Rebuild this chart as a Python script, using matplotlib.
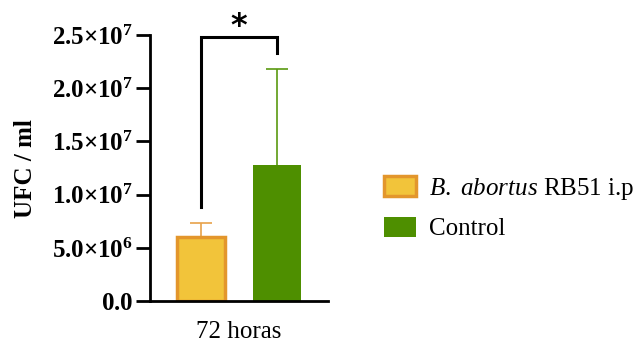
import matplotlib
matplotlib.use("Agg")
import matplotlib.pyplot as plt
from matplotlib.ticker import FixedLocator, FixedFormatter
from matplotlib.patches import Patch

plt.rcParams['font.family'] = ['Liberation Serif', 'DejaVu Serif']
plt.rcParams['mathtext.fontset'] = 'custom'
plt.rcParams['mathtext.rm'] = 'Liberation Serif'
plt.rcParams['mathtext.bf'] = 'Liberation Serif:bold'
plt.rcParams['mathtext.it'] = 'Liberation Serif:italic'

groups = [r"$\mathit{B.}$ $\mathit{abortus}$ RB51 i.p", "Control"]
means = [6.0e6, 12.8e6]
errors_up = [1.35e6, 9.0e6]
category = "72 horas"
yticks = [0, 5e6, 1e7, 1.5e7, 2e7, 2.5e7]
yticklabels = [r"$\mathbf{0.0}$", r"$\mathbf{5.0{\times}10^{6}}$", r"$\mathbf{1.0{\times}10^{7}}$",
               r"$\mathbf{1.5{\times}10^{7}}$", r"$\mathbf{2.0{\times}10^{7}}$", r"$\mathbf{2.5{\times}10^{7}}$"]

fills = ["#F2C43A", "#4E8F00"]
edges = ["#E3962C", "#4E8F00"]
errcols = ["#E8A24A", "#5A9A10"]

fig = plt.figure(figsize=(6.33, 3.58), dpi=100)
ax = fig.add_axes([0.237, 0.159, 0.281, 0.743])

xs = [0, 1]
width = 0.64
handles = []
for i in range(2):
    lw = 2.5 if i == 0 else 0
    ax.bar(xs[i], means[i], width=width, color=fills[i], edgecolor=edges[i],
           linewidth=lw, zorder=2)
    eb = ax.errorbar(xs[i], means[i], yerr=[[0], [errors_up[i]]], fmt='none',
                     ecolor=errcols[i], elinewidth=1.2, capsize=8, capthick=1.2, zorder=1)
    caps = eb.lines[1]
    if len(caps) > 1:
        caps[0].set_visible(False)
    handles.append(Patch(facecolor=fills[i], edgecolor=edges[i], linewidth=lw))

ax.set_xlim(-0.671, 1.671)
ax.set_ylim(0, 2.5e7)
ax.yaxis.set_major_locator(FixedLocator(yticks))
ax.yaxis.set_major_formatter(FixedFormatter(yticklabels))
ax.set_xticks([0.5])
ax.set_xticklabels([category], fontsize=18, family='Liberation Serif')
ax.tick_params(axis='x', length=0, pad=14)
ax.tick_params(axis='y', labelsize=18, width=2, length=10, direction='out', pad=2)
ax.spines['top'].set_visible(False)
ax.spines['right'].set_visible(False)
ax.spines['left'].set_linewidth(2)
ax.spines['bottom'].set_linewidth(2)
ax.set_ylabel("UFC / ml", fontsize=18, fontweight='bold', labelpad=11, family='Liberation Serif')

# significance bracket
ax.plot([0, 0, 1, 1], [8.8e6, 2.48e7, 2.48e7, 2.33e7], color='black', lw=2.2,
        clip_on=False, solid_joinstyle='miter')
ax.text(0.5, 2.5e7, "*", ha='center', va='baseline', fontsize=23, fontweight='bold',
        family='DejaVu Sans')

leg = ax.legend(handles=handles, labels=groups,
                loc='center left', bbox_to_anchor=(1.19, 0.35), frameon=False,
                prop={'family': 'Liberation Serif', 'size': 18},
                handlelength=1.28, handleheight=0.88, handletextpad=0.5,
                labelspacing=0.6)

fig.savefig("out.png", dpi=100)
